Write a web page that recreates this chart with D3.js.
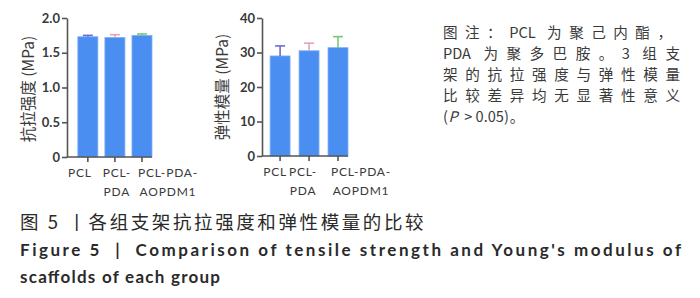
<!DOCTYPE html>
<html>
<head>
<meta charset="utf-8">
<script src="https://cdn.jsdelivr.net/npm/d3@7"></script>
<style>
  body { margin: 0; background: #fff; }
  svg { display: block; }
  text { white-space: pre; }
</style>
</head>
<body>
<div id="chart"></div>
<script>
// grupos y valores
const groups = ["PCL", "PCL-PDA", "PCL-PDA-AOPDM1"];
const groupLines = [["PCL"], ["PCL-", "PDA"], ["PCL-PDA-", "AOPDM1"]];
const tensileMean = [1.73, 1.72, 1.75];
const tensileSD = [0.02, 0.04, 0.02];
const modulusMean = [29.0, 30.5, 31.4];
const modulusSD = [2.9, 2.2, 3.2];
const tensileTicks = [0, 0.5, 1.0, 1.5, 2.0];
const modulusTicks = [0, 10, 20, 30, 40];
const errColors = ["#6b6bd6", "#e6a3b5", "#78c878"];

// nota: cada línea en trozos [texto, esLatino]
const noteLines = [
    [["图注：", 0], ["PCL", 1], ["为聚己内酯，", 0]],
    [["PDA", 1], ["为聚多巴胺。", 0], ["3", 1], ["组支", 0]],
    [["架的抗拉强度与弹性模量", 0]],
    [["比较差异均无显著性意义", 0]]
];

const W = 700, H = 298;
const svg = d3.select("#chart").append("svg")
    .attr("width", W)
    .attr("height", H);

const textColor = "#3a3a3a";
const barColor = "#4a8ef2";

/**
 * Dibuja un panel de barras con barras de error (solo hacia arriba).
 */
function drawPanel(opts) {
    const g = svg.append("g");
    const y = d3.scaleLinear().domain(opts.domain).range([opts.bottom, opts.top]);
    const x = d3.scaleBand().domain(groups)
        .range([opts.left, opts.right])
        .paddingInner(opts.padIn)
        .paddingOuter(opts.padOut)
        .align(1);

    // barras
    g.selectAll("rect.bar")
        .data(opts.means)
        .enter().append("rect")
        .attr("class", "bar")
        .attr("x", (d, i) => x(groups[i]))
        .attr("y", d => y(d))
        .attr("width", x.bandwidth())
        .attr("height", d => y(0) - y(d))
        .attr("fill", barColor)
        .attr("stroke", "#7fb0f7")
        .attr("stroke-width", 0.8);

    // barras de error
    const errs = opts.means.map((m, i) => ({ m: m, sd: opts.sd[i], i: i }));
    const eg = g.selectAll("g.err").data(errs).enter().append("g")
        .attr("stroke", d => errColors[d.i])
        .attr("stroke-width", 1.6);
    eg.append("line")
        .attr("x1", d => x(groups[d.i]) + x.bandwidth() / 2)
        .attr("x2", d => x(groups[d.i]) + x.bandwidth() / 2)
        .attr("y1", d => y(d.m))
        .attr("y2", d => y(d.m + d.sd));
    eg.append("line")
        .attr("x1", d => x(groups[d.i]) + x.bandwidth() / 2 - 5)
        .attr("x2", d => x(groups[d.i]) + x.bandwidth() / 2 + 5)
        .attr("y1", d => y(d.m + d.sd))
        .attr("y2", d => y(d.m + d.sd));

    // eje y
    const yAxis = g.append("g")
        .attr("transform", `translate(${opts.left},0)`)
        .call(d3.axisLeft(y).tickValues(opts.ticks).tickSize(5).tickSizeOuter(0)
            .tickFormat(opts.fmt));
    yAxis.selectAll("path, line").attr("stroke", "#555").attr("stroke-width", 1.6);
    yAxis.selectAll("text")
        .attr("fill", textColor)
        .style("font", "bold 13px Lato, 'Open Sans', sans-serif")
        .attr("x", -7);

    // eje x
    const xAxis = g.append("g")
        .attr("transform", `translate(0,${opts.bottom})`)
        .call(d3.axisBottom(x).tickSize(5).tickSizeOuter(0).tickFormat(""));
    xAxis.select(".domain").attr("d", `M${opts.left},0H${opts.right}`);
    xAxis.selectAll("path, line").attr("stroke", "#555").attr("stroke-width", 1.6);

    // etiquetas de categorías (una línea por elemento text)
    groupLines.forEach((lines, i) => {
        const cx = x(groups[i]) + x.bandwidth() / 2 + opts.labelShift[i];
        lines.forEach((s, k) => {
            g.append("text")
                .attr("x", cx)
                .attr("y", opts.bottom + 20 + k * 19)
                .attr("text-anchor", "middle")
                .attr("fill", textColor)
                .style("font", "12px Lato, 'Open Sans', sans-serif")
                .style("letter-spacing", "0.8px")
                .text(s);
        });
    });

    // título del eje y
    g.append("text")
        .attr("transform", `translate(${opts.titleX},${opts.titleY}) rotate(-90)`)
        .attr("text-anchor", "middle")
        .attr("fill", textColor)
        .style("font", "15.5px 'Noto Sans CJK SC', sans-serif")
        .text(opts.title);
}

drawPanel({
    domain: [0, 2], ticks: tensileTicks,
    fmt: d => d === 0 ? "0" : d3.format(".1f")(d),
    means: tensileMean, sd: tensileSD,
    left: 67, right: 152, top: 18, bottom: 157,
    padIn: 0.26, padOut: 0.2,
    labelShift: [-8, 2, 26],
    titleX: 34, titleY: 89, title: "抗拉强度 (MPa)"
});

drawPanel({
    domain: [0, 40], ticks: modulusTicks,
    fmt: d3.format("d"),
    means: modulusMean, sd: modulusSD,
    left: 262, right: 348, top: 18, bottom: 156,
    padIn: 0.31, padOut: 0.14,
    labelShift: [-5, -6, 23],
    titleX: 228, titleY: 87, title: "弹性模量 (MPa)"
});

// nota de la figura: un elemento por carácter chino, palabras latinas medidas
const noteX = 443, noteY = 37.5, noteStep = 21.2;
const noteFont = "14.6px 'Noto Sans CJK SC', sans-serif";
const noteEnd = [672, 680, 680, 680];
const note = svg.append("g").attr("fill", textColor).style("font", noteFont);
noteLines.forEach((parts, i) => {
    const yy = noteY + i * noteStep;
    const toks = [];
    parts.forEach(p => {
        if (p[1]) toks.push({ s: p[0], latin: true });
        else p[0].split("").forEach(c => toks.push({ s: c, latin: false }));
    });
    toks.forEach(t => {
        t.el = note.append("text").attr("y", yy).text(t.s);
        t.w = t.el.node().getComputedTextLength();
    });
    const spaceGap = 4;
    let extra = 0;
    toks.forEach(t => { if (t.latin) extra += spaceGap; });
    const ls = (noteEnd[i] - noteX - d3.sum(toks, t => t.w) - extra) / (toks.length - 1);
    let cx = noteX;
    toks.forEach(t => {
        t.el.attr("x", cx);
        cx += t.w + ls + (t.latin ? spaceGap : 0);
    });
});
// última línea: "(P > 0.05)。" con P en cursiva
(function () {
    const yy = noteY + 4 * noteStep;
    const pieces = [["(", ""], ["P", "italic "], ["> 0.05)", ""], ["。", ""]];
    const gapsAfter = [0.5, 6.5, 1, 0];
    let cx = noteX;
    pieces.forEach((p, k) => {
        const el = note.append("text")
            .attr("x", cx).attr("y", yy)
            .style("font", p[1] + noteFont)
            .text(p[0]);
        cx += el.node().getComputedTextLength() + gapsAfter[k];
    });
})();

// pie de figura
svg.append("text")
    .attr("x", 20).attr("y", 229)
    .attr("fill", "#2a2a2a")
    .style("font", "18.5px 'Noto Sans CJK SC', sans-serif")
    .style("letter-spacing", "2.6px")
    .text("图 5 丨各组支架抗拉强度和弹性模量的比较");
svg.append("text")
    .attr("x", 20).attr("y", 256)
    .attr("textLength", 661).attr("lengthAdjust", "spacing")
    .attr("fill", "#2a2a2a")
    .style("font", "bold 17px Lato, 'Open Sans', sans-serif")
    .text("Figure 5  |  Comparison of tensile strength and Young's modulus of");
svg.append("text")
    .attr("x", 20).attr("y", 283)
    .attr("textLength", 200).attr("lengthAdjust", "spacing")
    .attr("fill", "#2a2a2a")
    .style("font", "bold 17px Lato, 'Open Sans', sans-serif")
    .text("scaffolds of each group");
</script>
</body>
</html>
